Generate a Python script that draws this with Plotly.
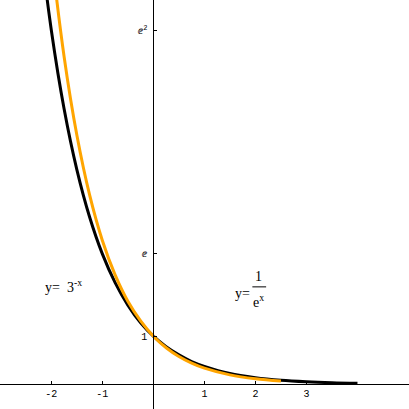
import plotly.graph_objects as go

# curve samples
x_black = [-2.25, -2, -1.75, -1.5, -1.25, -1, -0.75, -0.5, -0.25, 0, 0.25, 0.5, 0.75, 1, 1.5, 2, 2.5, 3, 3.5, 4]
y_black = [9.49, 7.39, 5.75, 4.48, 3.49, 2.72, 2.12, 1.65, 1.28, 1.0, 0.78, 0.61, 0.47, 0.37, 0.22, 0.135, 0.082, 0.05, 0.03, 0.018]

x_orange = [-2.1, -2, -1.75, -1.5, -1.25, -1, -0.75, -0.5, -0.25, 0, 0.25, 0.5, 0.75, 1, 1.5, 2, 2.5]
y_orange = [10.05, 9.0, 6.84, 5.2, 3.95, 3.0, 2.28, 1.73, 1.32, 1.0, 0.76, 0.577, 0.439, 0.333, 0.192, 0.111, 0.064]

x_ticks = [-2, -1, 1, 2, 3]
x_ticktext = ["-2", "-1", "1", "2", "3"]
y_ticks = [1, 2.71828, 7.38906]
y_ticktext = ["1", "ⅇ", "ⅇ<sup>2</sup>"]

x_range = [-3.006, 5.01]
y_range = [-0.52, 8.02]

fig = go.Figure()
fig.add_trace(go.Scatter(x=x_black, y=y_black, mode="lines", line=dict(color="black", width=3, shape="spline")))
fig.add_trace(go.Scatter(x=x_orange, y=y_orange, mode="lines", line=dict(color="#FFA500", width=3, shape="spline")))

serif = dict(family="Liberation Serif", size=14, color="black")
fig.add_annotation(x=-2.17, y=2.05, text="y=  3<sup>-x</sup>", showarrow=False, xanchor="left", font=serif)
fig.add_annotation(x=1.74, y=1.90, text="y=", showarrow=False, font=serif)
fig.add_annotation(x=2.07, y=2.25, text="1", showarrow=False, font=serif)
fig.add_annotation(x=2.07, y=1.74, text="e<sup>x</sup>", showarrow=False, font=serif)
fig.add_shape(type="line", x0=1.94, x1=2.21, y0=2.03, y1=2.03, line=dict(color="black", width=1))

tick_font = dict(family="Liberation Mono", size=10, color="black")
fig.update_xaxes(range=x_range, anchor="free", position=(0 - y_range[0]) / (y_range[1] - y_range[0]),
                 showline=True, linecolor="black", linewidth=1, showgrid=False, zeroline=False,
                 ticks="inside", ticklen=3, tickcolor="black", tickvals=x_ticks, ticktext=x_ticktext,
                 tickfont=tick_font)
fig.update_yaxes(range=y_range, anchor="free", position=(0 - x_range[0]) / (x_range[1] - x_range[0]),
                 showline=True, linecolor="black", linewidth=1, showgrid=False, zeroline=False,
                 ticks="inside", ticklen=3, tickcolor="black", tickvals=y_ticks, ticktext=y_ticktext,
                 tickfont=tick_font, ticklabelstandoff=4)
fig.update_layout(width=409, height=409, margin=dict(l=0, r=0, t=0, b=0),
                  plot_bgcolor="white", paper_bgcolor="white", showlegend=False)

# page body has a default 8px margin; drop it so the chart fills the window
fig.write_html("out.html", config={"displayModeBar": False},
               post_script="document.body.style.margin='0';")
